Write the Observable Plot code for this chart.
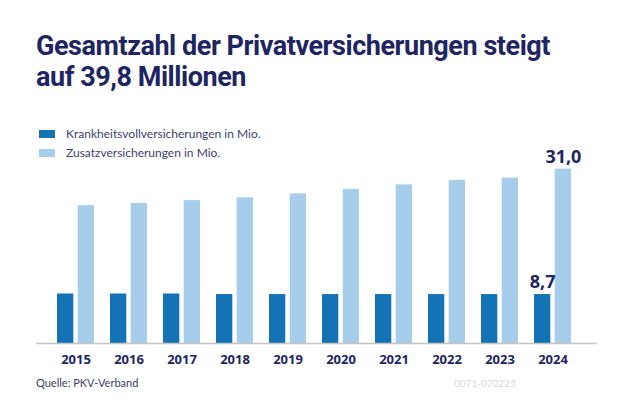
<!DOCTYPE html>
<html>
<head>
<meta charset="utf-8">
<script src="https://cdn.jsdelivr.net/npm/d3@7"></script>
<script src="https://cdn.jsdelivr.net/npm/@observablehq/plot@0.6"></script>
<style>
  html, body { margin: 0; padding: 0; background: #fff; }
  #wrap { position: relative; width: 630px; height: 420px; overflow: hidden; font-family: "Roboto", sans-serif; }
  #title { position: absolute; left: 36px; top: 31px; font-size: 27px; font-weight: 700; line-height: 31px; color: #1e2560; letter-spacing: -0.45px; }
  .leg { position: absolute; left: 39px; font-size: 12px; color: #3b4270; font-family: "Lato", sans-serif; }
  .sw { position: absolute; left: 0; top: 4px; width: 16px; height: 8px; }
  .leg span.t { position: absolute; left: 27px; top: 0; white-space: nowrap; line-height: 16px; }
  #chart { position: absolute; left: 0; top: 140px; }
  #src { position: absolute; left: 36px; top: 376px; font-size: 11px; color: #3b4060; font-family: "Lato", sans-serif; }
  #code { position: absolute; left: 454px; top: 377px; font-size: 10px; color: #d9d9d9; font-family: "Lato", sans-serif; }
</style>
</head>
<body>
<div id="wrap">
  <div id="title">Gesamtzahl der Privatversicherungen steigt<br>auf 39,8 Millionen</div>
  <div class="leg" style="top:126px"><div class="sw" style="background:#1473b5"></div><span class="t">Krankheitsvollversicherungen in Mio.</span></div>
  <div class="leg" style="top:145px"><div class="sw" style="background:#a6cde9"></div><span class="t">Zusatzversicherungen in Mio.</span></div>
  <div id="chart"></div>
  <div id="src">Quelle: PKV-Verband</div>
  <div id="code">0071-070225</div>
</div>
<script>
const years = ["2015","2016","2017","2018","2019","2020","2021","2022","2023","2024"];
const vollValues = [8.8, 8.8, 8.8, 8.7, 8.7, 8.7, 8.7, 8.7, 8.7, 8.7];
const zusatzValues = [24.5, 24.9, 25.4, 25.9, 26.6, 27.4, 28.2, 29.0, 29.4, 31.0];
const labelVoll = "8,7";
const labelZusatz = "31,0";

const voll = years.map((y, i) => ({year: y, value: vollValues[i]}));
const zusatz = years.map((y, i) => ({year: y, value: zusatzValues[i]}));
const last = years.length - 1;

const navy = "#1e2560";
const plot = Plot.plot({
  width: 630,
  height: 230,
  marginLeft: 36,
  marginRight: 33,
  marginTop: 23,
  marginBottom: 27,
  style: {fontFamily: "Open Sans, sans-serif", background: "transparent"},
  x: {domain: years, paddingInner: 0.296, paddingOuter: 0.44, align: 0.44, label: null},
  y: {domain: [0, 32], axis: null},
  marks: [
    Plot.barY(voll, {x: "year", y: "value", fill: "#1473b5", insetRight: 20.7}),
    Plot.barY(zusatz, {x: "year", y: "value", fill: "#a6cde9", insetLeft: 20.7}),
    Plot.ruleY([0], {stroke: "#c4c4c4", strokeWidth: 1.6}),
    Plot.axisX({tickSize: 0, tickPadding: 11, fontSize: 13, fontWeight: "bold", fill: navy, label: null}),
    Plot.text([voll[last]], {x: "year", y: "value", text: () => labelVoll, dx: -10.4, dy: -12, fontSize: 18, fontWeight: "bold", fill: navy}),
    Plot.text([zusatz[last]], {x: "year", y: "value", text: () => labelZusatz, dx: 10.4, dy: -12, fontSize: 18, fontWeight: "bold", fill: navy})
  ]
});
document.getElementById("chart").appendChild(plot);
</script>
</body>
</html>
